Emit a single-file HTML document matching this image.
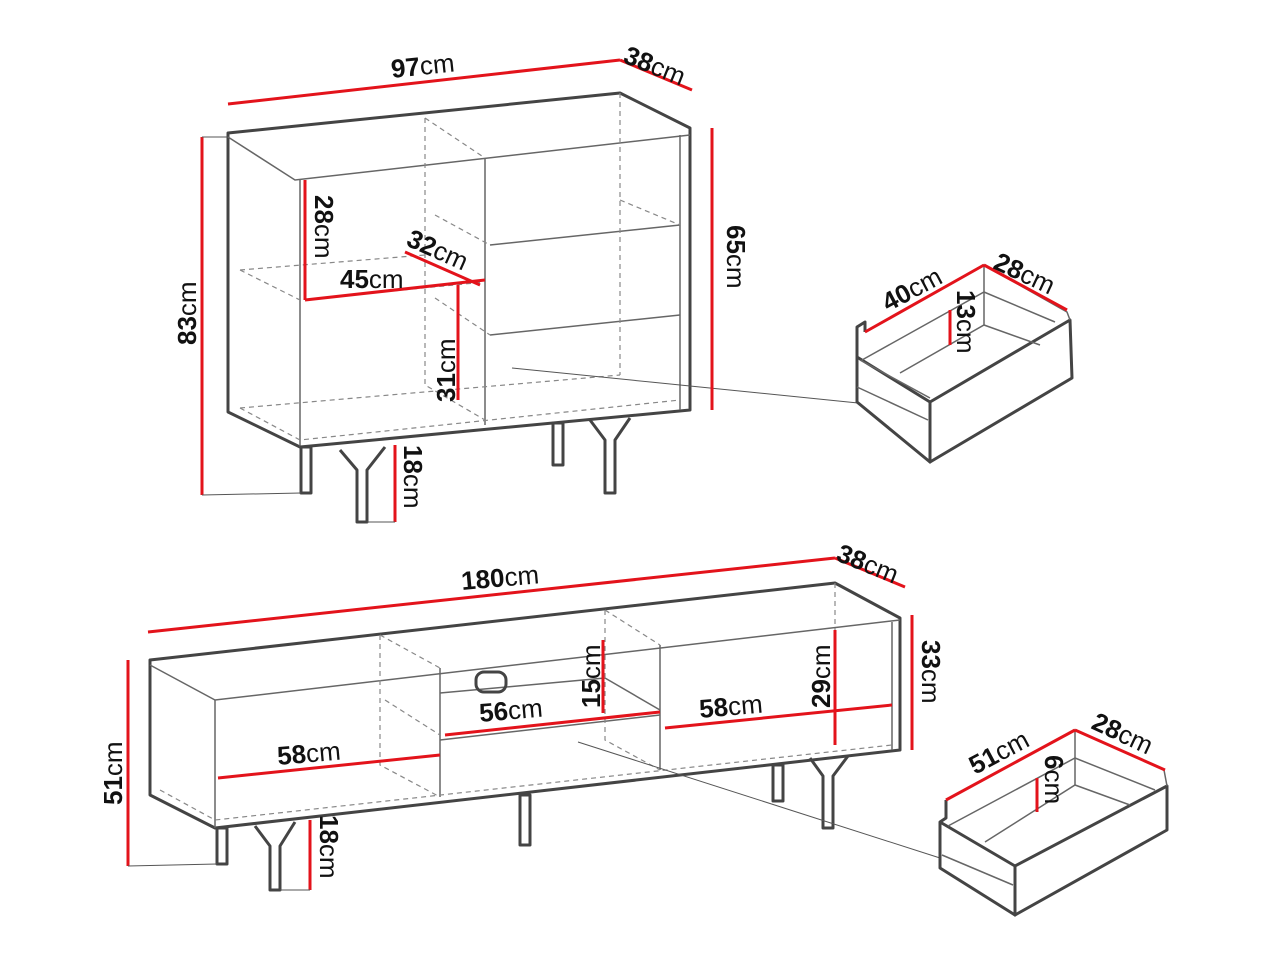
<!DOCTYPE html>
<html><head><meta charset="utf-8"><style>
html,body{margin:0;padding:0;background:#fff}
svg{display:block}
text{font-family:"Liberation Sans",sans-serif;font-size:26px;fill:#111}
.b{font-weight:bold}
.k{stroke:#444;stroke-width:3;fill:none;stroke-linejoin:round}
.t{stroke:#666;stroke-width:1.5;fill:none}
.d{stroke:#888;stroke-width:1.2;fill:none;stroke-dasharray:5 4}
.r{stroke:#e3131b;stroke-width:3;fill:none}
.g{stroke:#555;stroke-width:1;fill:none}
</style></head><body>
<svg width="1280" height="960" viewBox="0 0 1280 960" xmlns="http://www.w3.org/2000/svg">
<!-- TOP CABINET -->
<polygon class="k" points="228,133 620,93 690,128 690,410 300,447 228,412"/>
<polyline class="t" points="228,137 295,180 690,135"/>
<line class="t" x1="300" y1="180" x2="300" y2="447"/>
<line class="t" x1="680" y1="135" x2="680" y2="410"/>
<line class="t" x1="485" y1="158" x2="485" y2="425"/>
<line class="t" x1="490" y1="245" x2="680" y2="225"/>
<line class="t" x1="490" y1="335" x2="680" y2="315"/>
<polyline class="d" points="425,118 425,385 485,420"/>
<polyline class="d" points="425,118 485,158"/>
<polyline class="d" points="240,270 300,300 485,282"/>
<polyline class="d" points="240,270 425,255"/>
<polyline class="d" points="240,408 300,440 680,400"/>
<polyline class="d" points="240,408 620,375"/>
<polyline class="d" points="620,93 620,375"/>
<polyline class="d" points="435,215 490,245"/>
<polyline class="d" points="620,200 680,225"/>
<polyline class="d" points="435,298 490,335 "/>
<rect x="301" y="447" width="10" height="46" class="k"/>
<rect x="553" y="423" width="10" height="42" class="k"/>
<path class="k" d="M340,450 L357,470 L357,522 L367,522 L367,470 L385,447"/>
<path class="k" d="M590,420 L605,440 L605,493 L615,493 L615,440 L630,418"/>
<line class="g" x1="512" y1="368" x2="858" y2="403"/>
<!-- drawer top -->
<polyline class="k" points="865,332 865,322 857,327 857,402 930,462 930,402 857,357"/>
<polygon class="k" points="930,402 1070,320 1072,378 930,462"/>
<polyline class="t" points="865,332 984,265 1067,312 1070,320"/>
<polyline class="t" points="862,360 984,292 1055,322"/>
<line class="t" x1="984" y1="265" x2="984" y2="325"/>
<polyline class="t" points="900,373 984,325 1040,345"/>
<line class="t" x1="857" y1="387" x2="928" y2="420"/>
<line class="t" x1="860" y1="360" x2="930" y2="398"/>
<!-- red dims top -->
<line class="r" x1="228" y1="104" x2="620" y2="60"/>
<line class="r" x1="620" y1="60" x2="692" y2="90"/>
<line class="r" x1="202" y1="137" x2="202" y2="495"/>
<line class="g" x1="202" y1="495" x2="301" y2="493"/>
<line class="g" x1="202" y1="137" x2="228" y2="137"/>
<line class="r" x1="712" y1="128" x2="712" y2="410"/>
<line class="r" x1="305" y1="180" x2="305" y2="300"/>
<line class="r" x1="305" y1="300" x2="485" y2="280"/>
<line class="r" x1="405" y1="252" x2="480" y2="285"/>
<line class="r" x1="458" y1="285" x2="458" y2="400"/>
<line class="r" x1="395" y1="445" x2="395" y2="522"/>
<line class="g" x1="367" y1="522" x2="395" y2="522"/>
<line class="r" x1="865" y1="332" x2="984" y2="265"/>
<line class="r" x1="984" y1="265" x2="1067" y2="310"/>
<line class="r" x1="950" y1="310" x2="950" y2="345"/>
<!-- labels top -->
<text x="392" y="78" transform="rotate(-6 392 78)"><tspan class="b">97</tspan>cm</text>
<text x="622" y="62" transform="rotate(22 622 62)"><tspan class="b">38</tspan>cm</text>
<text x="196" y="345" transform="rotate(-90 196 345)"><tspan class="b">83</tspan>cm</text>
<text x="727" y="225" transform="rotate(90 727 225)"><tspan class="b">65</tspan>cm</text>
<text x="315" y="195" transform="rotate(90 315 195)"><tspan class="b">28</tspan>cm</text>
<text x="340" y="288"><tspan class="b">45</tspan>cm</text>
<text x="405" y="245" transform="rotate(24 405 245)"><tspan class="b">32</tspan>cm</text>
<text x="455" y="402" transform="rotate(-90 455 402)"><tspan class="b">31</tspan>cm</text>
<text x="404" y="445" transform="rotate(90 404 445)"><tspan class="b">18</tspan>cm</text>
<text x="888" y="312" transform="rotate(-28 888 312)"><tspan class="b">40</tspan>cm</text>
<text x="992" y="268" transform="rotate(25 992 268)"><tspan class="b">28</tspan>cm</text>
<text x="957" y="290" transform="rotate(90 957 290)"><tspan class="b">13</tspan>cm</text>

<!-- BOTTOM UNIT -->
<polygon class="k" points="150,660 835,583 900,618 900,750 215,828 150,795"/>
<polyline class="t" points="150,665 215,700 900,620"/>
<line class="t" x1="215" y1="700" x2="215" y2="828"/>
<line class="t" x1="892" y1="622" x2="892" y2="750"/>
<line class="t" x1="440" y1="668" x2="440" y2="797"/>
<line class="t" x1="660" y1="645" x2="660" y2="770"/>
<line class="t" x1="440" y1="740" x2="660" y2="715"/>
<line class="t" x1="440" y1="693" x2="605" y2="678"/>
<line class="t" x1="605" y1="678" x2="660" y2="710"/>
<rect x="476" y="672" width="30" height="20" rx="8" class="k"/>
<polyline class="d" points="380,635 380,765 440,797"/>
<polyline class="d" points="380,635 440,668"/>
<polyline class="d" points="605,610 605,740 660,770"/>
<polyline class="d" points="605,610 660,645"/>
<polyline class="d" points="385,700 440,735"/>
<polyline class="d" points="160,790 215,820 892,745"/>
<polyline class="d" points="835,583 835,715"/>
<rect x="217" y="828" width="10" height="36" class="k"/>
<rect x="520" y="795" width="10" height="50" class="k"/>
<rect x="773" y="765" width="10" height="36" class="k"/>
<path class="k" d="M255,826 L270,846 L270,890 L280,890 L280,846 L295,822"/>
<path class="k" d="M810,758 L823,776 L823,828 L833,828 L833,776 L848,756"/>
<line class="g" x1="578" y1="742" x2="940" y2="858"/>
<!-- drawer bottom -->
<polyline class="k" points="946,800 946,818 940,822 940,868 1015,915 1015,866 940,822"/>
<polygon class="k" points="1015,866 1167,786 1167,830 1015,915"/>
<polyline class="t" points="946,800 1075,730 1164,770 1167,786"/>
<polyline class="t" points="948,826 1075,758 1155,790"/>
<line class="t" x1="1075" y1="730" x2="1075" y2="785"/>
<polyline class="t" points="985,842 1075,785 1130,805"/>
<line class="t" x1="942" y1="855" x2="1013" y2="885"/>
<!-- red dims bottom -->
<line class="r" x1="148" y1="632" x2="835" y2="558"/>
<line class="r" x1="835" y1="558" x2="905" y2="587"/>
<line class="r" x1="128" y1="660" x2="128" y2="866"/>
<line class="g" x1="128" y1="866" x2="217" y2="864"/>
<line class="r" x1="912" y1="615" x2="912" y2="750"/>
<line class="r" x1="218" y1="778" x2="440" y2="755"/>
<line class="r" x1="445" y1="735" x2="660" y2="712"/>
<line class="r" x1="665" y1="728" x2="892" y2="705"/>
<line class="r" x1="603" y1="640" x2="603" y2="713"/>
<line class="r" x1="835" y1="630" x2="835" y2="745"/>
<line class="r" x1="310" y1="820" x2="310" y2="890"/>
<line class="g" x1="280" y1="890" x2="310" y2="890"/>
<line class="r" x1="946" y1="800" x2="1075" y2="730"/>
<line class="r" x1="1075" y1="730" x2="1165" y2="770"/>
<line class="r" x1="1037" y1="778" x2="1037" y2="812"/>
<text x="462" y="590" transform="rotate(-5 462 590)"><tspan class="b">180</tspan>cm</text>
<text x="835" y="560" transform="rotate(22 835 560)"><tspan class="b">38</tspan>cm</text>
<text x="122" y="805" transform="rotate(-90 122 805)"><tspan class="b">51</tspan>cm</text>
<text x="922" y="640" transform="rotate(90 922 640)"><tspan class="b">33</tspan>cm</text>
<text x="278" y="765" transform="rotate(-5 278 765)"><tspan class="b">58</tspan>cm</text>
<text x="480" y="722" transform="rotate(-5 480 722)"><tspan class="b">56</tspan>cm</text>
<text x="700" y="718" transform="rotate(-5 700 718)"><tspan class="b">58</tspan>cm</text>
<text x="600" y="708" transform="rotate(-90 600 708)"><tspan class="b">15</tspan>cm</text>
<text x="830" y="708" transform="rotate(-90 830 708)"><tspan class="b">29</tspan>cm</text>
<text x="320" y="815" transform="rotate(90 320 815)"><tspan class="b">18</tspan>cm</text>
<text x="975" y="775" transform="rotate(-28 975 775)"><tspan class="b">51</tspan>cm</text>
<text x="1090" y="728" transform="rotate(25 1090 728)"><tspan class="b">28</tspan>cm</text>
<text x="1045" y="755" transform="rotate(90 1045 755)"><tspan class="b">6</tspan>cm</text>
</svg>
</body></html>
